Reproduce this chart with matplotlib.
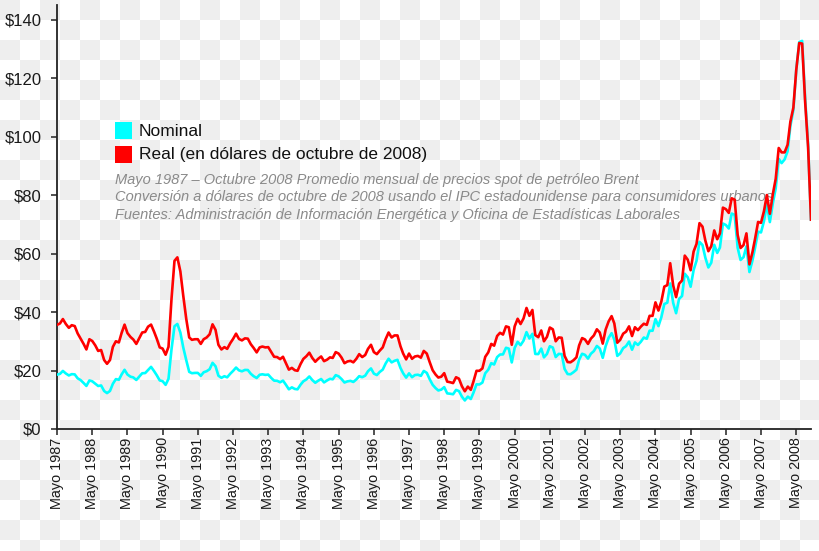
import numpy as np
import pandas as pd
import matplotlib
matplotlib.use("Agg")
import matplotlib.pyplot as plt
from matplotlib.patches import Rectangle

plt.rcParams['font.family'] = ['Liberation Sans', 'DejaVu Sans']

# Brent monthly average spot price, May 1987 - Oct 2008 (USD per barrel)
nominal = [
    18.58, 18.86, 19.86, 18.98, 18.31, 18.76, 18.67, 17.34,                      # 1987
    16.72, 15.73, 14.73, 16.60, 16.31, 15.49, 14.71, 14.89, 13.00, 12.28, 13.02, 15.48,  # 1988
    17.06, 16.83, 18.62, 20.25, 18.63, 17.90, 17.64, 16.77, 17.96, 19.06, 19.13, 20.19,  # 1989
    21.25, 19.81, 18.39, 16.61, 16.35, 15.10, 17.17, 27.17, 35.15, 35.92, 33.00, 27.90,  # 1990
    23.57, 19.54, 19.08, 19.18, 19.19, 18.17, 19.40, 19.77, 20.45, 22.63, 21.45, 18.22,  # 1991
    17.50, 18.05, 17.68, 18.88, 19.86, 21.02, 20.06, 19.73, 20.20, 20.17, 18.88, 18.04,  # 1992
    17.44, 18.55, 18.71, 18.51, 18.61, 17.45, 16.54, 16.48, 15.98, 16.56, 15.10, 13.57,  # 1993
    14.24, 13.69, 13.57, 15.14, 16.33, 16.96, 17.97, 16.74, 15.81, 16.51, 17.09, 15.93,  # 1994
    16.60, 17.16, 16.99, 18.42, 18.02, 17.07, 15.90, 16.29, 16.46, 16.09, 16.95, 18.07,  # 1995
    17.72, 18.24, 19.75, 20.71, 18.94, 18.45, 19.51, 20.31, 22.46, 24.03, 22.78, 23.32,  # 1996
    23.66, 20.88, 19.05, 17.57, 19.03, 17.71, 18.45, 18.56, 18.16, 19.86, 19.20, 17.03,  # 1997
    15.11, 13.96, 13.18, 13.47, 14.32, 12.18, 12.06, 11.88, 13.37, 12.96, 11.05, 9.76,   # 1998
    11.08, 10.26, 12.46, 15.27, 15.23, 15.86, 19.08, 20.27, 22.52, 22.05, 24.58, 25.47,  # 1999
    25.51, 27.78, 27.49, 22.76, 27.74, 29.80, 28.68, 30.20, 33.14, 30.96, 32.55, 25.66,  # 2000
    25.62, 27.50, 24.50, 25.66, 28.31, 27.85, 24.61, 25.68, 25.62, 20.54, 18.80, 18.71,  # 2001
    19.42, 20.28, 23.70, 25.73, 25.35, 24.08, 25.74, 26.65, 28.40, 27.54, 24.34, 28.33,  # 2002
    31.18, 32.77, 30.61, 25.00, 25.86, 27.65, 28.35, 29.89, 27.11, 29.61, 28.75, 29.81,  # 2003
    31.28, 30.86, 33.63, 33.59, 37.57, 35.18, 38.22, 42.74, 43.20, 49.78, 43.11, 39.60,  # 2004
    44.51, 45.48, 53.10, 51.88, 48.65, 54.35, 57.52, 63.98, 62.91, 58.54, 55.24, 56.86,  # 2005
    62.99, 60.21, 62.06, 70.26, 69.78, 68.56, 73.67, 73.23, 61.96, 57.81, 58.76, 62.47,  # 2006
    53.68, 57.56, 62.05, 67.49, 67.21, 71.05, 76.93, 70.76, 77.17, 82.34, 92.41, 90.93,  # 2007
    92.18, 94.99, 103.64, 109.07, 122.80, 132.32, 132.72, 113.24, 97.23, 71.58,          # 2008
]

# same series in October 2008 dollars
real = [
    35.6, 36.1, 37.6, 35.9, 34.6, 35.5, 35.2, 32.7,                              # 1987
    30.9, 29.1, 27.2, 30.7, 30.1, 28.6, 26.7, 27.0, 23.6, 22.3, 23.6, 28.1,      # 1988
    30.0, 29.6, 32.8, 35.7, 32.8, 31.5, 30.6, 29.1, 31.1, 33.0, 33.2, 35.0,      # 1989
    35.7, 33.3, 30.9, 27.9, 27.5, 25.4, 28.1, 44.4, 57.5, 58.7, 53.9, 45.6,      # 1990
    37.7, 31.3, 30.5, 30.7, 30.7, 29.1, 30.7, 31.3, 32.4, 35.8, 33.9, 28.8,      # 1991
    27.2, 28.0, 27.4, 29.3, 30.8, 32.6, 30.8, 30.3, 31.0, 30.9, 29.0, 27.7,      # 1992
    26.2, 27.9, 28.2, 27.9, 28.0, 26.3, 24.7, 24.6, 23.9, 24.7, 22.5, 20.3,      # 1993
    20.9, 20.1, 19.9, 22.2, 24.0, 24.9, 26.1, 24.3, 23.0, 24.0, 24.8, 23.2,      # 1994
    23.7, 24.5, 24.3, 26.3, 25.8, 24.4, 22.5, 23.1, 23.3, 22.8, 24.0, 25.6,      # 1995
    24.6, 25.3, 27.4, 28.8, 26.3, 25.6, 26.8, 27.9, 30.8, 33.0, 31.3, 32.0,      # 1996
    32.0, 28.3, 25.8, 23.8, 25.8, 24.0, 24.8, 25.0, 24.4, 26.7, 25.8, 22.9,      # 1997
    20.1, 18.6, 17.6, 17.9, 19.1, 16.2, 16.0, 15.7, 17.7, 17.2, 14.6, 12.9,      # 1998
    14.5, 13.4, 16.3, 19.9, 19.9, 20.7, 24.7, 26.2, 29.1, 28.5, 31.8, 32.9,      # 1999
    32.3, 35.1, 34.8, 28.8, 35.1, 37.7, 35.9, 37.8, 41.4, 38.7, 40.7, 32.1,      # 2000
    31.4, 33.7, 30.0, 31.5, 34.7, 34.1, 30.0, 31.3, 31.2, 25.0, 22.9, 22.8,      # 2001
    23.5, 24.5, 28.6, 31.1, 30.6, 29.1, 30.9, 32.0, 34.1, 33.0, 29.2, 34.0,      # 2002
    36.8, 38.6, 36.1, 29.5, 30.5, 32.6, 33.3, 35.1, 31.8, 34.8, 33.8, 35.0,      # 2003
    36.0, 35.6, 38.7, 38.7, 43.3, 40.5, 43.6, 48.7, 49.2, 56.7, 49.1, 45.1,      # 2004
    49.7, 50.8, 59.3, 57.9, 54.3, 60.7, 63.3, 70.4, 69.2, 64.4, 60.8, 62.5,      # 2005
    67.9, 64.9, 66.9, 75.7, 75.2, 73.9, 78.9, 78.4, 66.4, 61.9, 62.9, 66.9,      # 2006
    56.3, 60.4, 65.1, 70.8, 70.5, 74.5, 80.0, 73.6, 80.3, 85.6, 96.1, 94.6,      # 2007
    94.6, 97.2, 105.1, 109.9, 122.8, 132.0, 131.8, 112.0, 96.3, 71.6,            # 2008
]

start_month = '1987-05-01'
tick_years = list(range(1987, 2009))
y_ticks = [0, 20, 40, 60, 80, 100, 120, 140]
series_labels = ['Nominal', 'Real (en dólares de octubre de 2008)']
note_lines = [
    'Mayo 1987 – Octubre 2008 Promedio mensual de precios spot de petróleo Brent',
    'Conversión a dólares de octubre de 2008 usando el IPC estadounidense para consumidores urbanos',
    'Fuentes: Administración de Información Energética y Oficina de Estadísticas Laborales',
]

W, H = 820, 551
fig = plt.figure(figsize=(W / 100, H / 100), dpi=100)

# checkerboard background, as in the reference
yy, xx = np.indices((H, W))
checker = ((xx // 20 + yy // 20) % 2 == 0)
bg = np.ones((H, W, 3))
bg[checker] = 0.937
fig.figimage(bg, xo=0, yo=0, origin='upper', zorder=-10)

ax = fig.add_axes([57 / W, 1 - 429 / H, (811 - 57) / W, (429 - 5) / H])
ax.set_facecolor('none')

dates = pd.date_range(start_month, periods=len(nominal), freq='MS')
ax.plot(dates, nominal, color='#00ffff', lw=1.9, zorder=3, solid_joinstyle='round')
ax.plot(dates, real, color='#ff0000', lw=1.9, zorder=4, solid_joinstyle='round')

ax.set_xlim(dates[0], dates[-1])
ax.set_ylim(0, 145)

tick_dates = [pd.Timestamp(f'{y}-05-01') for y in tick_years]
ax.set_xticks(tick_dates)
ax.set_xticklabels([f'Mayo {y}' for y in tick_years], rotation=90, fontsize=10.4, color='#1a1a1a')
ax.set_yticks(y_ticks)
ax.set_yticklabels([f'${v}' for v in y_ticks], fontsize=12, color='#1a1a1a')
ax.tick_params(axis='x', direction='out', length=4, width=1.1, pad=2, color='#222222')
ax.tick_params(axis='y', direction='out', length=4, width=1.1, pad=7, color='#222222')

for side in ['top', 'right']:
    ax.spines[side].set_visible(False)
for side in ['left', 'bottom']:
    ax.spines[side].set_linewidth(1.3)
    ax.spines[side].set_color('#222222')

# legend boxes drawn by hand
for (y_px, col, lab) in [(122, '#00ffff', series_labels[0]), (146, '#ff0000', series_labels[1])]:
    fig.add_artist(Rectangle((115 / W, 1 - (y_px + 17) / H), 17 / W, 17 / H,
                             transform=fig.transFigure, color=col, lw=0))
    fig.text(139 / W, 1 - (y_px + 9) / H, lab, fontsize=12.5, color='#111111',
             ha='left', va='center')

# note text sits under the lines
for i, line in enumerate(note_lines):
    ax.text(115 / W, 1 - (180 + 17.5 * i) / H, line, transform=fig.transFigure,
            fontsize=10.5, style='italic', color='#8a8a8a', ha='left', va='center', zorder=1)

fig.savefig('out.png', dpi=100)
